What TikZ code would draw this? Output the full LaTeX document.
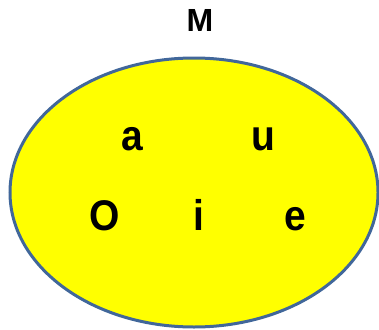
\documentclass[tikz,border=0pt]{standalone}
\usepackage{fontspec}
\setmainfont{Liberation Sans}
\usepackage{xcolor}
\definecolor{setyellow}{RGB}{255,255,0}
\definecolor{setborder}{RGB}{65,103,154}

\begin{document}
\begin{tikzpicture}%
  [x=1pt,y=1pt]
  \tikzstyle{vowel node}=[anchor=base,inner sep=0,yscale=1.1,font=\fontsize{39}{39}\selectfont\bfseries]
  \tikzstyle{title node}=[anchor=base,inner sep=0,font=\fontsize{32}{32}\selectfont\bfseries]
  \useasboundingbox (0,0) rectangle (379,-329);
  \draw[setborder,fill=setyellow,line width=3pt]
    (194,-192.5) ellipse [x radius=184pt,y radius=134.5pt];
  \node(M)[title node] at (200,-32){M};
  \node(a)[vowel node] at (132,-150){a};
  \node(u)[vowel node] at (263,-150){u};
  \node(O)[vowel node] at (105,-230){O};
  \node(i)[vowel node] at (199,-230){i};
  \node(e)[vowel node] at (295,-230){e};
\end{tikzpicture}
\end{document}
